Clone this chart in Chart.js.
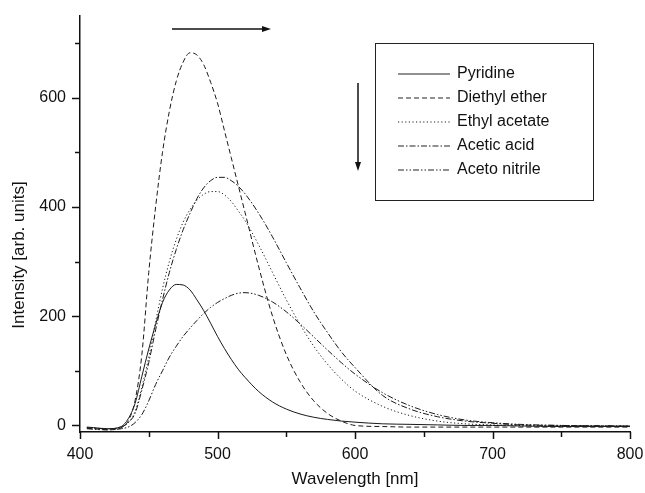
<!DOCTYPE html>
<html>
<head>
<meta charset="utf-8">
<script src="https://cdn.jsdelivr.net/npm/chart.js@4.4.1/dist/chart.umd.min.js"></script>
<style>
  html, body { margin: 0; padding: 0; background: #fff; }
</style>
</head>
<body>
<canvas id="grafico" width="645" height="493"></canvas>
<script>
// Comprimentos de onda (nm) usados em todas as curvas
const comprimentos = [405, 410, 420, 430, 435, 440, 445, 450, 455, 460, 465, 470, 475, 480, 485, 490, 495, 500, 505, 510,
                      515, 520, 530, 540, 550, 560, 570, 580, 590, 600, 620, 640, 660, 680, 700, 720, 750, 800];

const piridina = [-3, -4, -6, -2, 12, 40, 90, 140, 185, 225, 248, 258, 257, 248, 230, 210, 187, 163, 141, 121,
                  103, 88, 62, 43, 30, 21, 15, 11, 8, 6, 3, 2, 1, 0, 0, -1, -2, -2];
const eterDietilico = [-5, -6, -8, -4, 8, 45, 130, 280, 400, 500, 575, 630, 665, 682, 678, 660, 628, 590, 540, 490,
                       440, 390, 290, 200, 130, 80, 45, 22, 8, 0, -2, -3, -3, -3, -3, -3, -3, -3];
const acetatoEtila = [-4, -5, -6, -3, 5, 25, 70, 125, 190, 250, 300, 340, 372, 395, 412, 423, 428, 428, 422, 410,
                      393, 375, 330, 280, 230, 185, 145, 112, 85, 63, 35, 18, 8, 3, 1, 0, -1, -1];
const acidoAcetico = [-4, -5, -6, -3, 5, 22, 65, 115, 175, 230, 280, 322, 358, 388, 415, 435, 448, 454, 454, 448,
                      438, 424, 388, 345, 298, 252, 208, 170, 135, 106, 55, 30, 16, 8, 4, 1, 0, -1];
const acetonitrila = [-6, -7, -8, -6, -3, 5, 20, 45, 75, 100, 125, 145, 163, 178, 192, 205, 216, 225, 232, 238,
                      242, 243, 238, 226, 208, 186, 162, 138, 115, 94, 60, 36, 20, 10, 5, 2, 0, -1];

const nomes = ['Pyridine', 'Diethyl ether', 'Ethyl acetate', 'Acetic acid', 'Aceto nitrile'];
const tracos = [[], [5, 3], [1.2, 2.4], [6, 2, 1.5, 2], [6, 2, 1.5, 2, 1.5, 2]];
const ticksX = [400, 500, 600, 700, 800];
const ticksY = [0, 200, 400, 600];

const corLinha = '#1a1a1a';
const series = [piridina, eterDietilico, acetatoEtila, acidoAcetico, acetonitrila];

const datasets = series.map((valores, i) => ({
    label: nomes[i],
    data: comprimentos.map((c, j) => ({ x: c, y: valores[j] })),
    borderColor: corLinha,
    borderWidth: 1,
    borderDash: tracos[i],
    pointRadius: 0,
    cubicInterpolationMode: 'monotone',
    fill: false
}));

// Desenha marcas dos eixos, títulos, legenda e setas
const extras = {
    id: 'extras',
    afterDraw(chart) {
        const c = chart.ctx;
        const x = chart.scales.x, y = chart.scales.y;
        const area = chart.chartArea;
        c.save();
        c.strokeStyle = '#111';
        c.lineWidth = 1.5;
        c.setLineDash([]);
        for (let v = 0; v <= 700; v += 100) {
            const py = Math.round(y.getPixelForValue(v)) + 0.5;
            c.beginPath();
            c.moveTo(area.left, py);
            c.lineTo(area.left - (v % 200 === 0 ? 8 : 5), py);
            c.stroke();
        }
        for (let v = 400; v <= 800; v += 50) {
            const px = Math.round(x.getPixelForValue(v)) + 0.5;
            c.beginPath();
            c.moveTo(px, area.bottom);
            c.lineTo(px, area.bottom + (v % 100 === 0 ? 7 : 5));
            c.stroke();
        }

        // títulos dos eixos
        c.fillStyle = '#111';
        c.font = '17px "Liberation Sans", Arial, sans-serif';
        c.textAlign = 'center';
        c.textBaseline = 'middle';
        c.fillText('Wavelength [nm]', 355, 479);
        c.save();
        c.translate(19, 255);
        c.rotate(-Math.PI / 2);
        c.fillText('Intensity [arb. units]', 0, 0);
        c.restore();

        // legenda
        c.lineWidth = 1;
        c.strokeStyle = '#222';
        c.strokeRect(375.5, 43.5, 218, 157);
        c.font = '16px "Liberation Sans", Arial, sans-serif';
        c.textAlign = 'left';
        nomes.forEach((nome, i) => {
            const ly = 74 + i * 24;
            c.setLineDash(tracos[i]);
            c.beginPath();
            c.moveTo(398, ly);
            c.lineTo(450, ly);
            c.stroke();
            c.setLineDash([]);
            c.fillText(nome, 457, ly);
        });

        // setas
        c.lineWidth = 1.5;
        c.strokeStyle = '#111';
        c.beginPath();
        c.moveTo(172, 29);
        c.lineTo(264, 29);
        c.stroke();
        c.beginPath();
        c.moveTo(271, 29);
        c.lineTo(262, 26);
        c.lineTo(262, 32);
        c.closePath();
        c.fill();
        c.beginPath();
        c.moveTo(358, 83);
        c.lineTo(358, 163);
        c.stroke();
        c.beginPath();
        c.moveTo(358, 171);
        c.lineTo(355, 162);
        c.lineTo(361, 162);
        c.closePath();
        c.fill();
        c.restore();
    }
};

const ctx = document.getElementById('grafico').getContext('2d');
new Chart(ctx, {
    type: 'line',
    data: { datasets: datasets },
    options: {
        responsive: false,
        animation: false,
        devicePixelRatio: 1,
        layout: { padding: { left: 0, right: 0, top: 7, bottom: 0 } },
        plugins: {
            legend: { display: false },
            tooltip: { enabled: false }
        },
        scales: {
            x: {
                type: 'linear',
                min: 400,
                max: 800,
                grid: { display: false },
                border: { display: true, color: '#111', width: 1.5 },
                ticks: {
                    color: '#111',
                    font: { size: 16, family: '"Liberation Sans", Arial, sans-serif' },
                    padding: 5,
                    maxRotation: 0
                },
                afterBuildTicks: (s) => { s.ticks = ticksX.map(v => ({ value: v })); },
                afterFit: (s) => { s.height = 61; s.paddingLeft = 0; s.paddingRight = 15; }
            },
            y: {
                type: 'linear',
                min: -12,
                max: 750,
                grid: { display: false },
                border: { display: true, color: '#111', width: 1.5 },
                ticks: {
                    color: '#111',
                    font: { size: 16, family: '"Liberation Sans", Arial, sans-serif' },
                    padding: 6
                },
                afterBuildTicks: (s) => { s.ticks = ticksY.map(v => ({ value: v })); },
                afterFit: (s) => { s.width = 80; }
            }
        }
    },
    plugins: [extras]
});
</script>
</body>
</html>
